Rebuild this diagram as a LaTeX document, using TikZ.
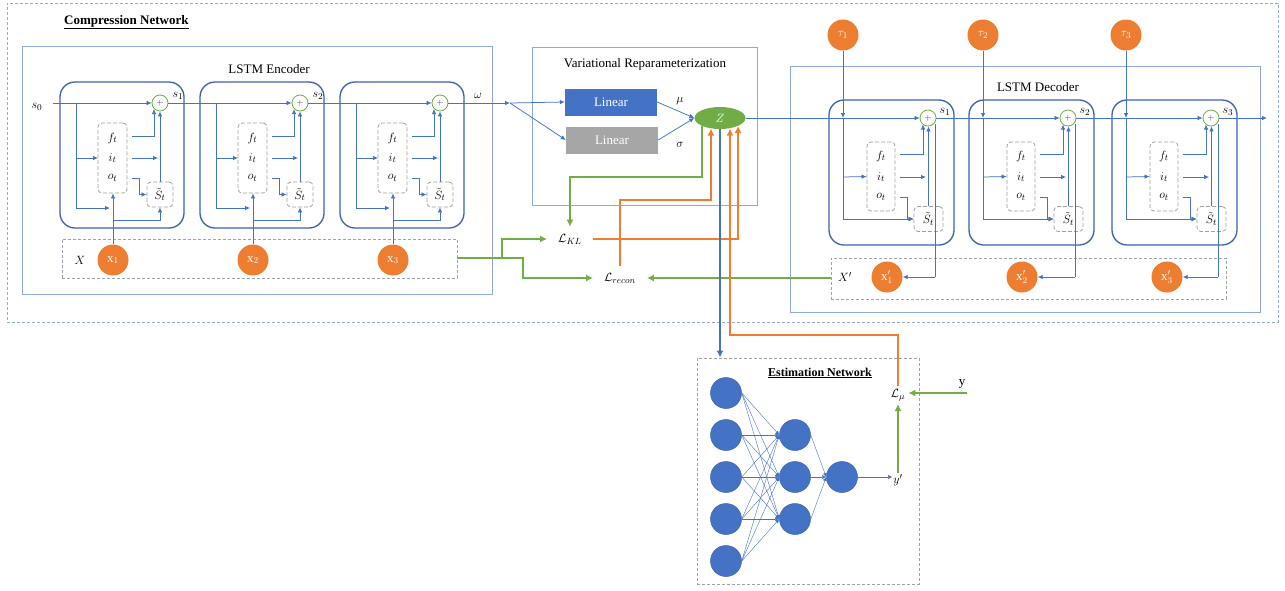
\documentclass[tikz,border=0pt]{standalone}
\usepackage{fontspec}
\setmainfont{Liberation Serif}
\usetikzlibrary{arrows.meta,shapes.geometric,calc}
\definecolor{lblue}{HTML}{4472C4}
\definecolor{cblue}{HTML}{3A62AE}
\definecolor{bblue}{HTML}{8EA9DB}
\definecolor{dgray}{HTML}{A0A0A0}
\definecolor{orng}{HTML}{ED7D31}
\definecolor{grn}{HTML}{70AD47}
\definecolor{lgray}{HTML}{A6A6A6}
\tikzset{
 arr/.style={-{Latex[length=5pt,width=4.5pt]}},
 barr/.style={-{Latex[length=7pt,width=7pt]}},
 bl/.style={draw=lblue, line width=0.75pt},
 gl/.style={draw=grn, line width=1.6pt},
 ol/.style={draw=orng, line width=1.6pt},
 bthick/.style={draw=lblue, line width=1.6pt},
 cellbox/.style={draw=cblue, line width=1.3pt, rounded corners=15pt},
 boxframe/.style={draw=bblue, line width=0.8pt},
 dframe/.style={draw=bblue, line width=0.8pt, dash pattern=on 3pt off 2pt},
 gatebox/.style={draw=dgray, line width=0.8pt, dash pattern=on 4pt off 2pt, rounded corners=4pt},
 plusc/.style={circle, draw=grn, fill=white, line width=0.8pt, minimum size=16pt, inner sep=0pt},
 oc/.style={circle, fill=orng, minimum size=31pt, inner sep=0pt, text=white, font=\fontsize{13}{13}\selectfont},
 lab/.style={font=\fontsize{13}{13}\selectfont, inner sep=1pt},
 ttl/.style={font=\fontsize{13}{15}\selectfont},
 lin/.style={minimum width=92pt, minimum height=27pt, inner sep=0pt, text=white, font=\fontsize{13}{13}\selectfont},
 neuron/.style={circle, fill=lblue, draw=cblue, line width=0.5pt, minimum size=31pt, inner sep=0pt},
 nl/.style={draw=lblue, line width=0.4pt, -{Latex[length=4pt,width=4pt]}},
 loss/.style={font=\fontsize{13}{13}\selectfont, inner xsep=11pt, inner ysep=7pt},
 enccell/.pic={
  \node[cellbox, minimum width=124pt, minimum height=146pt] (-box) at (62,73) {};
  \node[plusc] (-plus) at (100,21) {\color{darkgray}\fontsize{9}{9}\selectfont$+$};
  \node[gatebox, minimum width=29pt, minimum height=70pt] (-gate) at (52.5,76) {};
  \node[lab] (-f) at (52.5,56) {$f_t$};
  \node[lab] (-i) at (52.5,76) {$i_t$};
  \node[lab] (-o) at (52.5,96) {$o_t$};
  \node[gatebox, minimum width=26pt, minimum height=25pt, font=\fontsize{13}{13}\selectfont, inner sep=0pt] (-st) at (100,112.5) {$\tilde{S}_t$};
  \coordinate (-br) at (16,21);
  \draw[bl] (-br) -- (16,126);
  \draw[bl,arr] (16,76) -- (38,76);
  \draw[bl,arr] (16,126) -- (50,126);
  \draw[bl,arr] (72,54) -- (94,54) -- (94,27);
  \draw[bl,arr] (72,76) -- (98,76);
  \draw[bl,arr] (-st.north) -- (-plus.south);
  \draw[bl,arr] (72,96) -- (79,96) -- (79,112.5) -- (-st.west);
  \draw[bl,arr] (53,138) -| (-st.south);
 },
 decell/.pic={
  \node[cellbox, minimum width=125pt, minimum height=145pt] (-box) at (62.5,72.5) {};
  \node[plusc] (-plus) at (99,18) {\color{darkgray}\fontsize{9}{9}\selectfont$+$};
  \node[gatebox, minimum width=28pt, minimum height=69pt] (-gate) at (52,76.5) {};
  \node[lab] (-f) at (52,56) {$f_t$};
  \node[lab] (-i) at (52,77) {$i_t$};
  \node[lab] (-o) at (52,97) {$o_t$};
  \node[gatebox, minimum width=29pt, minimum height=25pt, font=\fontsize{13}{13}\selectfont, inner sep=0pt] (-st) at (99.5,119) {$\tilde{S}_t$};
  \coordinate (-top) at (14,18);
  \coordinate (-oend) at (106,177);
  \draw[bl,arr] (-top) -- (14,119) -- (-st.west);
  \draw[bl,arr] (14,77) -- (-gate.west);
  \draw[bl,arr] (71,54) -- (94,54) -- (94,24.5);
  \draw[bl,arr] (71,77) -- (97,77);
  \draw[bl,arr] (-st.north) -- (-st.north |- -plus.south);
  \draw[bl,arr] (71,97) -- (78,97) -- (78,119) -- (-st.west);
  \draw[bl] (106,24) -- (-oend);
 },
}
\begin{document}
\begin{tikzpicture}[x=1pt,y=-1pt]
\useasboundingbox (0,0) rectangle (1285,590);
\fill[white] (0,0) rectangle (1285,590);

% frames
\node[dframe, minimum width=1271pt, minimum height=319pt] (comp) at (642.5,162.5) {};
\node[font=\fontsize{13}{15}\selectfont\bfseries, anchor=west, inner sep=0pt] (compt) at (64,22) {\underline{Compression Network}};
\node[boxframe, minimum width=470pt, minimum height=248pt] (enc) at (257,170) {};
\node[ttl] (enct) at (269,69) {LSTM Encoder};
\node[boxframe, minimum width=470pt, minimum height=246pt] (dec) at (1025,189) {};
\node[ttl] (dect) at (1038,87) {LSTM Decoder};
\node[boxframe, minimum width=225pt, minimum height=158pt] (vr) at (644.5,126) {};
\node[ttl] (vrt) at (645,64) {Variational Reparameterization};
\node[dframe, draw=dgray!80!bblue, minimum width=395pt, minimum height=39pt] (xbox) at (259.5,258.5) {};
\node[dframe, draw=dgray!80!bblue, minimum width=395pt, minimum height=41pt] (xpbox) at (1028.5,278.5) {};
\node[dframe, draw=dgray, minimum width=222pt, minimum height=226pt] (est) at (808,471) {};
\node[font=\fontsize{12}{14}\selectfont\bfseries, inner sep=0pt] (estt) at (820,373) {\underline{Estimation Network}};

% encoder cells
\pic (e1) at (60,82) {enccell};
\pic (e2) at (200,82) {enccell};
\pic (e3) at (340,82) {enccell};
\node[lab] (Xl) at (80,260) {$X$};
\node[oc] (x1) at (113,260) {$\mathrm{x}_1$};
\node[oc] (x2) at (253,260) {$\mathrm{x}_2$};
\node[oc] (x3) at (393,260) {$\mathrm{x}_3$};
\foreach \k in {1,2,3} {
  \draw[bl,arr] (x\k) -- (x\k |- e\k-gate.south);
}
\coordinate (s0p) at (53,103);
\node[lab] (s0) at (37,107) {$s_0$};
\node[lab] (ls1) at (178,96) {$s_1$};
\node[lab] (ls2) at (318,96) {$s_2$};
\node[lab] (lw) at (478,96) {$\omega$};
\coordinate (wsplit) at (510,103);
\draw[bl,arr] (s0p) -- (e1-plus);
\draw[bl,arr] (e1-plus) -- (e2-plus);
\draw[bl,arr] (e2-plus) -- (e3-plus);
\draw[bl,arr] (e3-plus) -- (wsplit);

% variational
\node[lin, fill=lblue] (lin1) at (611,102) {Linear};
\node[lin, fill=lgray] (lin2) at (612,140) {Linear};
\draw[bl,arr] (wsplit) -- (lin1.west);
\draw[bl,arr] (wsplit) -- (lin2.west);
\node[lab] (mu) at (680,101) {$\mu$};
\node[lab] (sig) at (680,145) {$\sigma$};

% decoder
\pic (d1) at (829,100) {decell};
\pic (d2) at (969,100) {decell};
\pic (d3) at (1112,100) {decell};
\node[oc] (t1) at (843,35) {$\tau_1$};
\node[oc] (t2) at (983,35) {$\tau_2$};
\node[oc] (t3) at (1126,35) {$\tau_3$};
\foreach \k in {1,2,3} {
  \draw[bl,arr] (t\k) -- (d\k-top);
}
\node[lab] (Xpl) at (845,277) {$X'$};
\node[oc] (xp1) at (887,277) {$\mathrm{x}'_1$};
\node[oc] (xp2) at (1022,277) {$\mathrm{x}'_2$};
\node[oc] (xp3) at (1167,277) {$\mathrm{x}'_3$};
\foreach \k in {1,2,3} {
  \draw[bl,arr] (d\k-oend) -- (xp\k);
}
\node[lab] (dl1) at (945,112) {$s_1$};
\node[lab] (dl2) at (1085,112) {$s_2$};
\node[lab] (dl3) at (1228,112) {$s_3$};
\coordinate (dout) at (1267,118);

% Z
\node[ellipse, fill=grn, minimum width=51pt, minimum height=22pt, inner sep=0pt, text=white, font=\fontsize{13}{13}\selectfont] (Z) at (720,118) {$Z$};
\draw[bl,arr] (lin1.east) -- (Z.west);
\draw[bl,arr] (lin2.east) -- (Z.west);
\draw[bl,arr] (Z) -- (d1-plus);
\draw[bl,arr] (d1-plus) -- (d2-plus);
\draw[bl,arr] (d2-plus) -- (d3-plus);
\draw[bl,arr] (d3-plus) -- (dout);

% losses
\node[loss] (LKL) at (570,239) {$\mathcal{L}_{KL}$};
\node[loss] (LR) at (620,278) {$\mathcal{L}_{recon}$};
\coordinate (zb1) at (711,128.5);
\coordinate (zb2) at (730,128.5);
\coordinate (zb3) at (738,126);
\coordinate (zg) at (702,126);
\coordinate (g1) at (502,258);
\coordinate (g2) at (523,258);
\coordinate (o1t) at (711,200);
\coordinate (o3t) at (730,335);
\draw[gl,barr] (xbox.east |- g2) -- (g2) |- (LR.west);
\draw[gl,barr] (g1) |- (LKL.west);
\draw[gl,barr] (zg) -- ++(0,51) -| (LKL.north);
\draw[gl,barr] (xpbox.west |- LR.east) -- (LR.east);
\draw[ol,barr] (LR.north) |- (o1t) -- (zb1);
\draw[ol,barr] (LKL.east) -| (zb3);

% estimation network
\draw[bthick,barr] (Z.south) -- (Z.south |- est.north);
\foreach \i/\yy in {1/393,2/435,3/477,4/519,5/561} \node[neuron] (a\i) at (726,\yy) {};
\foreach \j/\yy in {1/435,2/477,3/519} \node[neuron] (b\j) at (795,\yy) {};
\node[neuron] (c1) at (842,477) {};
\foreach \i in {1,...,5} \foreach \j in {1,2,3} \draw[nl] (a\i.east) -- (b\j.west);
\foreach \j in {1,2,3} \draw[nl] (b\j.east) -- (c1.west);
\node[lab] (yp) at (898,480) {$y'$};
\draw[nl] (c1.east) -- (c1.east -| yp.west);
\node[lab, inner sep=3pt] (Lmu) at (898,395) {$\mathcal{L}_\mu$};
\draw[gl,barr] (yp.north) -- (Lmu.south);
\node[lab] (ylab) at (962,384) {y};
\coordinate (yin) at (967,393);
\draw[gl,barr] (yin) -- (Lmu.east |- yin);
\draw[ol,barr] (Lmu.north) |- (o3t) -- (zb2);
\end{tikzpicture}
\end{document}
